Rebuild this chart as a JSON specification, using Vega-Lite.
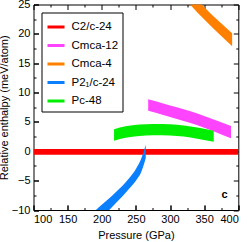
{
  "$schema": "https://vega.github.io/schema/vega-lite/v6.json",
  "width": 204.8,
  "height": 205.5,
  "autosize": "none",
  "padding": {"left": 33.5, "top": 4.5, "right": 10.7, "bottom": 32},
  "config": {
    "view": {"stroke": "black", "strokeWidth": 1},
    "font": "Liberation Sans",
    "axis": {"domain": false, "grid": false, "labelColor": "black", "titleColor": "black", "labelFont": "Liberation Sans", "titleFont": "Liberation Sans", "labelFontSize": 11, "titleFontSize": 11, "titleFontWeight": "normal"}
  },
  "datasets": {
    "red": [
      {"s": "C2/c-24", "p": 100, "hi": 0.4, "lo": -0.6},
      {"s": "C2/c-24", "p": 400, "hi": 0.4, "lo": -0.6}
    ],
    "pink": [
      {"s": "Cmca-12", "p": 268, "hi": 8.85, "lo": 6.9},
      {"s": "Cmca-12", "p": 290, "hi": 8.15, "lo": 6.2},
      {"s": "Cmca-12", "p": 310, "hi": 7.5, "lo": 5.5},
      {"s": "Cmca-12", "p": 330, "hi": 6.8, "lo": 4.8},
      {"s": "Cmca-12", "p": 350, "hi": 6.0, "lo": 4.0},
      {"s": "Cmca-12", "p": 370, "hi": 5.15, "lo": 3.1},
      {"s": "Cmca-12", "p": 389.3, "hi": 4.3, "lo": 2.2}
    ],
    "orange": [
      {"s": "Cmca-4", "p": 322, "hi": 28.0, "lo": 25.9},
      {"s": "Cmca-4", "p": 330, "hi": 27.0, "lo": 24.9},
      {"s": "Cmca-4", "p": 340, "hi": 25.75, "lo": 23.65},
      {"s": "Cmca-4", "p": 351, "hi": 24.46, "lo": 22.36},
      {"s": "Cmca-4", "p": 370, "hi": 22.3, "lo": 20.2},
      {"s": "Cmca-4", "p": 391, "hi": 20.1, "lo": 17.9}
    ],
    "green": [
      {"s": "Pc-48", "p": 218, "hi": 3.75, "lo": 1.8},
      {"s": "Pc-48", "p": 235, "hi": 4.25, "lo": 2.3},
      {"s": "Pc-48", "p": 255, "hi": 4.55, "lo": 2.62},
      {"s": "Pc-48", "p": 275, "hi": 4.65, "lo": 2.75},
      {"s": "Pc-48", "p": 300, "hi": 4.6, "lo": 2.7},
      {"s": "Pc-48", "p": 320, "hi": 4.4, "lo": 2.5},
      {"s": "Pc-48", "p": 340, "hi": 4.05, "lo": 2.15},
      {"s": "Pc-48", "p": 364, "hi": 3.5, "lo": 1.63}
    ],
    "blue": [
      {"s": "P2₁/c-24", "p": 186, "hi": -10.6, "lo": -13.0},
      {"s": "P2₁/c-24", "p": 191.5, "hi": -10.0, "lo": -12.3},
      {"s": "P2₁/c-24", "p": 200, "hi": -9.1, "lo": -11.3},
      {"s": "P2₁/c-24", "p": 211, "hi": -8.0, "lo": -10.0},
      {"s": "P2₁/c-24", "p": 220, "hi": -7.0, "lo": -8.9},
      {"s": "P2₁/c-24", "p": 230, "hi": -5.9, "lo": -7.7},
      {"s": "P2₁/c-24", "p": 240, "hi": -4.6, "lo": -6.4},
      {"s": "P2₁/c-24", "p": 250, "hi": -3.0, "lo": -5.0},
      {"s": "P2₁/c-24", "p": 258, "hi": -1.2, "lo": -3.5},
      {"s": "P2₁/c-24", "p": 264.4, "hi": 1.1, "lo": -1.2}
    ],
    "label": [
      {"p": 380, "v": -7.5, "t": "c"}
    ]
  },
  "resolve": {"axis": {"x": "independent", "y": "independent"}},
  "layer": [
    {
      "data": {"name": "red"},
      "mark": {"type": "area", "clip": true},
      "encoding": {
        "x": {"field": "p", "type": "quantitative", "scale": {"domain": [100, 400], "nice": false, "zero": false},
              "axis": {"orient": "bottom", "title": "Pressure (GPa)", "values": [100, 150, 200, 250, 300, 350, 400], "tickSize": -5, "tickColor": "black", "tickWidth": 1, "labelPadding": 8, "titlePadding": 5}},
        "y": {"field": "hi", "type": "quantitative", "scale": {"domain": [-10, 25], "nice": false, "zero": false},
              "axis": {"orient": "left", "title": "Relative enthalpy (meV/atom)", "values": [-10, -5, 0, 5, 10, 15, 20, 25], "tickSize": -5, "tickColor": "black", "tickWidth": 1, "labelPadding": 8.5, "titlePadding": 1.5}},
        "y2": {"field": "lo"},
        "color": {"field": "s", "type": "nominal",
                  "scale": {"domain": ["C2/c-24", "Cmca-12", "Cmca-4", "P2₁/c-24", "Pc-48"], "range": ["#ff0000", "#ff44ff", "#ff8000", "#0a80ff", "#00ee00"]},
                  "legend": {"title": null, "orient": "top-left", "offset": 7.5, "strokeColor": "black", "fillColor": "white", "padding": 4, "symbolType": "M-1,0L1,0", "symbolStrokeWidth": 3, "symbolSize": 290, "labelFontSize": 11.5, "labelFont": "Liberation Sans", "labelColor": "black", "labelOffset": 5, "rowPadding": 1.5, "cornerRadius": 0,
                             "encode": {"symbols": {"update": {"stroke": {"scale": "color", "field": "value"}, "strokeWidth": {"value": 3}}}}}}
      }
    },
    {
      "data": {"name": "pink"},
      "mark": {"type": "area", "clip": true, "interpolate": "monotone", "color": "#ff44ff"},
      "encoding": {
        "x": {"field": "p", "type": "quantitative", "scale": {"domain": [100, 400], "nice": false, "zero": false},
              "axis": {"orient": "top", "offset": -205.5, "title": null, "labels": false, "values": [125, 175, 225, 275, 325, 375], "tickSize": 2.5, "tickColor": "black", "tickWidth": 1}},
        "y": {"field": "hi", "type": "quantitative", "scale": {"domain": [-10, 25], "nice": false, "zero": false},
              "axis": {"orient": "right", "offset": -204.8, "title": null, "labels": false, "values": [-7.5, -2.5, 2.5, 7.5, 12.5, 17.5, 22.5], "tickSize": 2.5, "tickColor": "black", "tickWidth": 1}},
        "y2": {"field": "lo"}
      }
    },
    {
      "data": {"name": "orange"},
      "mark": {"type": "area", "clip": true, "interpolate": "monotone", "color": "#ff8000"},
      "encoding": {
        "x": {"field": "p", "type": "quantitative", "scale": {"domain": [100, 400], "nice": false, "zero": false},
              "axis": {"orient": "bottom", "offset": -205.5, "title": null, "labels": false, "values": [100, 150, 200, 250, 300, 350, 400], "tickSize": 5, "tickColor": "black", "tickWidth": 1}},
        "y": {"field": "hi", "type": "quantitative", "scale": {"domain": [-10, 25], "nice": false, "zero": false},
              "axis": {"orient": "left", "offset": -204.8, "title": null, "labels": false, "values": [-10, -5, 0, 5, 10, 15, 20, 25], "tickSize": 5, "tickColor": "black", "tickWidth": 1}},
        "y2": {"field": "lo"}
      }
    },
    {
      "data": {"name": "green"},
      "mark": {"type": "area", "clip": true, "interpolate": "monotone", "color": "#00ee00"},
      "encoding": {
        "x": {"field": "p", "type": "quantitative", "scale": {"domain": [100, 400], "nice": false, "zero": false},
              "axis": {"orient": "bottom", "offset": -205.5, "title": null, "labels": false, "values": [125, 175, 225, 275, 325, 375], "tickSize": 2.5, "tickColor": "black", "tickWidth": 1}},
        "y": {"field": "hi", "type": "quantitative", "scale": {"domain": [-10, 25], "nice": false, "zero": false},
              "axis": {"orient": "left", "offset": -204.8, "title": null, "labels": false, "values": [-7.5, -2.5, 2.5, 7.5, 12.5, 17.5, 22.5], "tickSize": 2.5, "tickColor": "black", "tickWidth": 1}},
        "y2": {"field": "lo"}
      }
    },
    {
      "data": {"name": "blue"},
      "mark": {"type": "area", "clip": true, "interpolate": "monotone", "color": "#0a80ff"},
      "encoding": {
        "x": {"field": "p", "type": "quantitative", "scale": {"domain": [100, 400], "nice": false, "zero": false},
              "axis": {"orient": "top", "offset": -205.5, "title": null, "labels": false, "values": [100, 150, 200, 250, 300, 350, 400], "tickSize": 5, "tickColor": "black", "tickWidth": 1}},
        "y": {"field": "hi", "type": "quantitative", "scale": {"domain": [-10, 25], "nice": false, "zero": false},
              "axis": {"orient": "right", "offset": -204.8, "title": null, "labels": false, "values": [-10, -5, 0, 5, 10, 15, 20, 25], "tickSize": 5, "tickColor": "black", "tickWidth": 1}},
        "y2": {"field": "lo"}
      }
    },
    {
      "data": {"name": "label"},
      "mark": {"type": "text", "fontWeight": "bold", "fontSize": 11, "font": "Liberation Sans", "color": "black", "baseline": "middle", "align": "center"},
      "encoding": {
        "x": {"field": "p", "type": "quantitative", "scale": {"domain": [100, 400], "nice": false, "zero": false}, "axis": null},
        "y": {"field": "v", "type": "quantitative", "scale": {"domain": [-10, 25], "nice": false, "zero": false}, "axis": null},
        "text": {"field": "t"}
      }
    }
  ]
}
